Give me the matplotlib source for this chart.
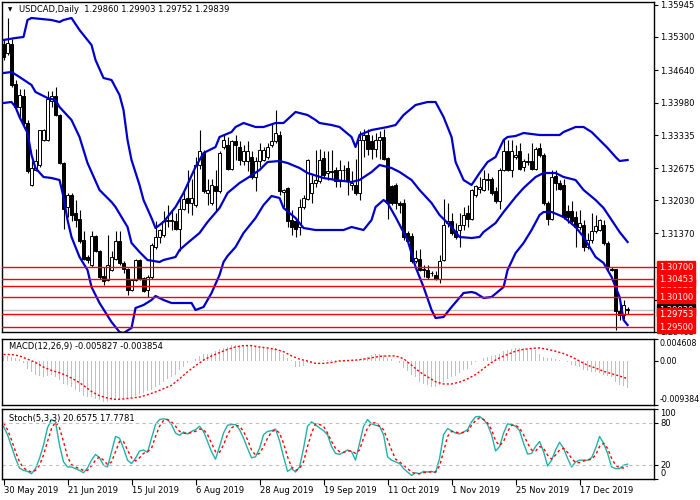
import numpy as np
import matplotlib
matplotlib.use("Agg")
import matplotlib.pyplot as plt
from matplotlib import transforms

plt.rcParams['font.family'] = ['DejaVu Sans']
plt.rcParams['font.size'] = 6

# ---- daily candles USDCAD (30 May 2019 .. end Dec 2019) ----
opens = [
    1.3517, 1.3498, 1.3517, 1.3436, 1.3391, 1.3411, 1.3357, 1.3234, 1.3264, 1.3274,
    1.3324, 1.3324, 1.3401, 1.3411, 1.3374, 1.3277, 1.3191, 1.3214, 1.3177, 1.3165,
    1.3124, 1.3091, 1.3074, 1.3131, 1.3101, 1.3051, 1.3044, 1.3064, 1.3087, 1.3121,
    1.3077, 1.3067, 1.3024, 1.3044, 1.3084, 1.3047, 1.3024, 1.3051, 1.3111, 1.3131,
    1.3134, 1.3161, 1.3161, 1.3161, 1.3147, 1.3187, 1.3207, 1.3197, 1.3194, 1.3274,
    1.3297, 1.3217, 1.3197, 1.3231, 1.3221, 1.3311, 1.3314, 1.3267, 1.3321, 1.3311,
    1.3281, 1.3281, 1.3291, 1.3251, 1.3281, 1.3284, 1.3291, 1.3314, 1.3321, 1.3334,
    1.3219, 1.3227, 1.3164, 1.3161, 1.3151, 1.3191, 1.3207, 1.3217, 1.3237, 1.3241,
    1.3287, 1.3257, 1.3261, 1.3264, 1.3241, 1.3264, 1.3267, 1.3234, 1.3234, 1.3217,
    1.3324, 1.3334, 1.3321, 1.3307, 1.3324, 1.3331, 1.3287, 1.3231, 1.3234, 1.3197,
    1.3197, 1.3137, 1.3131, 1.3081, 1.3087, 1.3067, 1.3064, 1.3057, 1.3054, 1.3047,
    1.3084, 1.3157, 1.3161, 1.3141, 1.3144, 1.3154, 1.3177, 1.3167, 1.3214, 1.3227,
    1.3224, 1.3247, 1.3245, 1.3221, 1.3201, 1.3264, 1.3301, 1.3264, 1.3291, 1.3301,
    1.3271, 1.3279, 1.3281, 1.3267, 1.3307, 1.3294, 1.3197, 1.3167, 1.3251, 1.3237,
    1.3234, 1.3181, 1.3181, 1.3171, 1.3151, 1.3154, 1.3111, 1.3124, 1.3141, 1.3144,
    1.3154, 1.3117, 1.3067, 1.3066, 1.2981, 1.2974, 1.29860]
highs = [
    1.3524, 1.3568, 1.3527, 1.3444, 1.3427, 1.3427, 1.3364, 1.3281, 1.3307, 1.3344,
    1.3347, 1.3421, 1.3421, 1.3431, 1.3377, 1.3279, 1.3217, 1.3217, 1.3204, 1.3184,
    1.3141, 1.3094, 1.3141, 1.3134, 1.3104, 1.3071, 1.3134, 1.3101, 1.3141, 1.3141,
    1.3081, 1.3069, 1.3047, 1.3087, 1.3087, 1.3051, 1.3054, 1.3117, 1.3161, 1.3147,
    1.3181, 1.3194, 1.3181, 1.3177, 1.3211, 1.3221, 1.3264, 1.3247, 1.3291, 1.3344,
    1.3304, 1.3247, 1.3247, 1.3264, 1.3301, 1.3334, 1.3331, 1.3324, 1.3334, 1.3321,
    1.3314, 1.3321, 1.3301, 1.3291, 1.3317, 1.3311, 1.3317, 1.3357, 1.3383, 1.3341,
    1.3227, 1.3231, 1.3184, 1.3167, 1.3207, 1.3214, 1.3287, 1.3254, 1.3304, 1.3307,
    1.3301, 1.3301, 1.3304, 1.3271, 1.3284, 1.3274, 1.3281, 1.3261, 1.3287, 1.3341,
    1.3347, 1.3347, 1.3334, 1.3337, 1.3341, 1.3347, 1.3291, 1.3234, 1.3237, 1.3201,
    1.3207, 1.3141, 1.3137, 1.3104, 1.3107, 1.3074, 1.3074, 1.3061, 1.3061, 1.3094,
    1.3207, 1.3197, 1.3177, 1.3157, 1.3177, 1.3191, 1.3194, 1.3227, 1.3234, 1.3251,
    1.3264, 1.3257, 1.3251, 1.3231, 1.3269, 1.3327, 1.3324, 1.3324, 1.3314, 1.3317,
    1.3287, 1.3297, 1.3317, 1.3311, 1.3317, 1.3297, 1.3201, 1.3264, 1.3264, 1.3244,
    1.3247, 1.3194, 1.3201, 1.3181, 1.3184, 1.3164, 1.3137, 1.3177, 1.3174, 1.3167,
    1.3164, 1.3121, 1.3071, 1.3067, 1.2997, 1.3004, 1.29903]
lows = [
    1.3484, 1.3494, 1.3431, 1.3381, 1.3371, 1.3354, 1.3257, 1.3232, 1.3261, 1.3271,
    1.3321, 1.3321, 1.3391, 1.3372, 1.3276, 1.3147, 1.3171, 1.3161, 1.3151, 1.3117,
    1.3085, 1.3077, 1.3071, 1.3099, 1.3047, 1.3034, 1.3041, 1.3061, 1.3084, 1.3074,
    1.3057, 1.3014, 1.3021, 1.3041, 1.3044, 1.3019, 1.3011, 1.3047, 1.3107, 1.3117,
    1.3131, 1.3151, 1.3144, 1.3144, 1.3101, 1.3184, 1.3177, 1.3174, 1.3191, 1.3267,
    1.3217, 1.3194, 1.3194, 1.3181, 1.3217, 1.3307, 1.3264, 1.3264, 1.3284, 1.3274,
    1.3274, 1.3261, 1.3247, 1.3221, 1.3271, 1.3281, 1.3287, 1.3311, 1.3317, 1.3214,
    1.3191, 1.3151, 1.3134, 1.3131, 1.3134, 1.3187, 1.3204, 1.3197, 1.3231, 1.3237,
    1.3251, 1.3244, 1.3247, 1.3231, 1.3231, 1.3241, 1.3214, 1.3224, 1.3214, 1.3204,
    1.3291, 1.3294, 1.3287, 1.3291, 1.3287, 1.3284, 1.3167, 1.3194, 1.3187, 1.3177,
    1.3124, 1.3114, 1.3077, 1.3077, 1.3061, 1.3051, 1.3047, 1.3053, 1.3044, 1.3037,
    1.3081, 1.3151, 1.3134, 1.3127, 1.3111, 1.3144, 1.3151, 1.3164, 1.3211, 1.3217,
    1.3221, 1.3224, 1.3214, 1.3197, 1.3187, 1.3261, 1.3261, 1.3251, 1.3287, 1.3264,
    1.3261, 1.3274, 1.3264, 1.3264, 1.3291, 1.3194, 1.3154, 1.3164, 1.3224, 1.3224,
    1.3167, 1.3157, 1.3157, 1.3111, 1.3144, 1.3101, 1.3107, 1.3117, 1.3137, 1.3141,
    1.3114, 1.3061, 1.3061, 1.2944, 1.2964, 1.2967, 1.29752]
closes = [
    1.3491, 1.3518, 1.3434, 1.3391, 1.3414, 1.3357, 1.3261, 1.3267, 1.3281, 1.3344,
    1.3344, 1.3407, 1.3411, 1.3374, 1.3277, 1.3187, 1.3214, 1.3174, 1.3164, 1.3121,
    1.3087, 1.3084, 1.3131, 1.3101, 1.3051, 1.3041, 1.3074, 1.3091, 1.3121, 1.3077,
    1.3067, 1.3024, 1.3044, 1.3084, 1.3047, 1.3021, 1.3051, 1.3114, 1.3131, 1.3144,
    1.3161, 1.3164, 1.3164, 1.3147, 1.3187, 1.3207, 1.3197, 1.3207, 1.3274, 1.3301,
    1.3221, 1.3224, 1.3234, 1.3221, 1.3297, 1.3324, 1.3267, 1.3321, 1.3314, 1.3284,
    1.3301, 1.3301, 1.3251, 1.3281, 1.3304, 1.3304, 1.3311, 1.3321, 1.3337, 1.3221,
    1.3224, 1.3161, 1.3151, 1.3147, 1.3191, 1.3207, 1.3284, 1.3237, 1.3244, 1.3284,
    1.3254, 1.3261, 1.3260, 1.3241, 1.3264, 1.3265, 1.3241, 1.3237, 1.3217, 1.3324,
    1.3334, 1.3307, 1.3307, 1.3324, 1.3331, 1.3287, 1.3197, 1.3197, 1.3197, 1.3194,
    1.3131, 1.3121, 1.3081, 1.3087, 1.3064, 1.3064, 1.3051, 1.3057, 1.3047, 1.3081,
    1.3154, 1.3161, 1.3137, 1.3131, 1.3154, 1.3174, 1.3167, 1.3224, 1.3231, 1.3231,
    1.3247, 1.3244, 1.3217, 1.3201, 1.3264, 1.3301, 1.3264, 1.3301, 1.3294, 1.3267,
    1.3281, 1.3281, 1.3267, 1.3307, 1.3294, 1.3197, 1.3167, 1.3251, 1.3237, 1.3227,
    1.3171, 1.3171, 1.3161, 1.3151, 1.3157, 1.3111, 1.3124, 1.3141, 1.3151, 1.3164,
    1.3117, 1.3071, 1.3064, 1.2981, 1.2974, 1.2994, 1.29839]

# ---- Bollinger bands (bar index, price) ----
bb_up_i = [0, 3, 5, 6, 7, 12, 14, 15, 17, 19, 22, 23, 25, 27, 29, 30, 31, 32, 34, 35,
           37, 38, 40, 43, 45, 48, 50, 53, 54, 57, 58, 60, 63, 65, 68, 70, 73, 74, 76, 78,
           79, 82, 84, 87, 88, 89, 92, 96, 98, 100, 103, 106, 108, 110, 112, 113, 115, 117, 119, 121,
           123, 125, 126, 128, 130, 134, 139, 140, 143, 145, 147, 149, 151, 153, 154, 156]
bb_up = [1.3524, 1.3528, 1.3530, 1.3564, 1.3568, 1.3564, 1.3560, 1.3564, 1.3568, 1.3544,
         1.3514, 1.3484, 1.3448, 1.3444, 1.3414, 1.3384, 1.3324, 1.3284, 1.3234, 1.3204,
         1.3168, 1.3148, 1.3160, 1.3190, 1.3218, 1.3270, 1.3298, 1.3310, 1.3330, 1.3340,
         1.3350, 1.3358, 1.3350, 1.3350, 1.3358, 1.3358, 1.3380, 1.3378, 1.3374, 1.3364,
         1.3358, 1.3354, 1.3350, 1.3330, 1.3310, 1.3334, 1.3344, 1.3350, 1.3354, 1.3374,
         1.3394, 1.3400, 1.3400, 1.3370, 1.3330, 1.3280, 1.3244, 1.3234, 1.3258, 1.3280,
         1.3290, 1.3324, 1.3330, 1.3332, 1.3338, 1.3334, 1.3334, 1.3340, 1.3350, 1.3350,
         1.3340, 1.3324, 1.3308, 1.3290, 1.3282, 1.3284]
bb_mid_i = [0, 2, 4, 7, 8, 11, 13, 14, 17, 19, 21, 24, 27, 28, 31, 32, 34, 36, 39, 40,
            43, 44, 46, 49, 51, 54, 56, 59, 61, 64, 66, 69, 71, 74, 76, 80, 83, 87, 89, 92,
            94, 97, 99, 102, 104, 107, 109, 112, 114, 117, 119, 120, 123, 125, 128, 130, 133, 135, 138, 140,
            143, 145, 148, 150, 152, 154, 156]
bb_mid = [1.3458, 1.3460, 1.3450, 1.3434, 1.3420, 1.3408, 1.3404, 1.3390, 1.3364, 1.3330,
          1.3278, 1.3224, 1.3200, 1.3190, 1.3150, 1.3118, 1.3100, 1.3084, 1.3080, 1.3084,
          1.3090, 1.3104, 1.3118, 1.3138, 1.3160, 1.3188, 1.3218, 1.3238, 1.3248, 1.3264,
          1.3280, 1.3282, 1.3278, 1.3268, 1.3258, 1.3248, 1.3244, 1.3240, 1.3244, 1.3260,
          1.3274, 1.3268, 1.3260, 1.3244, 1.3224, 1.3198, 1.3174, 1.3150, 1.3130, 1.3128,
          1.3130, 1.3140, 1.3158, 1.3180, 1.3210, 1.3228, 1.3250, 1.3258, 1.3258, 1.3250,
          1.3244, 1.3224, 1.3204, 1.3188, 1.3164, 1.3140, 1.3120]
bb_low_i = [0, 2, 3, 4, 6, 7, 8, 10, 12, 14, 15, 16, 17, 19, 21, 22, 24, 27, 29, 30,
            32, 33, 35, 37, 38, 40, 42, 47, 48, 50, 52, 54, 55, 56, 58, 60, 63, 65, 67, 69,
            70, 73, 75, 78, 85, 87, 88, 90, 92, 93, 95, 96, 98, 101, 103, 105, 107, 108, 110, 112,
            115, 117, 118, 120, 122, 125, 126, 128, 130, 132, 134, 135, 137, 140, 143, 145, 148, 150, 152, 154,
            155, 156]
bb_low = [1.3398, 1.3400, 1.3390, 1.3370, 1.3338, 1.3294, 1.3268, 1.3250, 1.3248, 1.3244,
          1.3210, 1.3164, 1.3130, 1.3090, 1.3064, 1.3030, 1.2998, 1.2960, 1.2940, 1.2938,
          1.2948, 1.2988, 1.2994, 1.3004, 1.3012, 1.3004, 1.2998, 1.2998, 1.2984, 1.2990,
          1.3018, 1.3054, 1.3080, 1.3092, 1.3110, 1.3138, 1.3168, 1.3194, 1.3212, 1.3208,
          1.3188, 1.3168, 1.3148, 1.3144, 1.3144, 1.3150, 1.3148, 1.3144, 1.3164, 1.3190,
          1.3204, 1.3198, 1.3170, 1.3124, 1.3070, 1.3030, 1.2984, 1.2968, 1.2970, 1.2990,
          1.3018, 1.3020, 1.3018, 1.3008, 1.3010, 1.3030, 1.3064, 1.3098, 1.3118, 1.3144,
          1.3174, 1.3180, 1.3180, 1.3170, 1.3150, 1.3130, 1.3090, 1.3078, 1.3050, 1.3010,
          1.2964, 1.2954]

# support / resistance levels and current price
levels = [1.30700, 1.30453, 1.30328, 1.30100, 1.29753, 1.29500]
last_price = 1.29839
price_ticks = [1.35945, 1.35300, 1.34640, 1.33980, 1.33335, 1.32675, 1.32030, 1.31370,
               1.30710, 1.30050, 1.29405]

# ---- MACD(12,26,9) ----
macd_hist = [
    0.0010, 0.0010, 0.0008, 0.0006, 0.0003, -0.0006, -0.0017, -0.0024, -0.0030, -0.0033,
    -0.0035, -0.0032, -0.0030, -0.0035, -0.0042, -0.0050, -0.0053, -0.0057, -0.0062, -0.0067,
    -0.0075, -0.0078, -0.0078, -0.0082, -0.0085, -0.0089, -0.0088, -0.0085, -0.0084, -0.0082,
    -0.0082, -0.0080, -0.0078, -0.0076, -0.0073, -0.0069, -0.0066, -0.0062, -0.0057, -0.0052,
    -0.0046, -0.0040, -0.0035, -0.0030, -0.0021, -0.0014, -0.0006, -0.0001, 0.0004, 0.0010,
    0.0013, 0.0015, 0.0017, 0.0020, 0.0024, 0.0027, 0.0029, 0.0033, 0.0034, 0.0034,
    0.0033, 0.0033, 0.0032, 0.0029, 0.0029, 0.0027, 0.0027, 0.0027, 0.0026, 0.0019,
    0.0013, 0.0006, 0.0001, -0.0014, -0.0014, -0.0011, -0.0006, -0.0003, -0.0001, 0.0000,
    0.0001, 0.0001, 0.0001, 0.0001, 0.0001, 0.0001, 0.0000, 0.0000, 0.0001, 0.0003,
    0.0006, 0.0008, 0.0011, 0.0013, 0.0015, 0.0011, 0.0006, 0.0003, 0.0000, -0.0006,
    -0.0016, -0.0023, -0.0030, -0.0035, -0.0046, -0.0050, -0.0053, -0.0057, -0.0057, -0.0053,
    -0.0046, -0.0039, -0.0035, -0.0032, -0.0026, -0.0021, -0.0017, -0.0010, -0.0004, -0.0001,
    0.0006, 0.0008, 0.0010, 0.0011, 0.0015, 0.0020, 0.0022, 0.0024, 0.0026, 0.0026,
    0.0026, 0.0024, 0.0024, 0.0022, 0.0015, 0.0008, 0.0006, 0.0006, 0.0004, 0.0001,
    -0.0001, -0.0004, -0.0009, -0.0011, -0.0014, -0.0021, -0.0023, -0.0024, -0.0024, -0.0026,
    -0.0030, -0.0032, -0.0035, -0.0046, -0.0052, -0.0055, -0.005827]
sig_i = list(range(0, 157, 2))
macd_sig = [
    0.0013, 0.0013, 0.0010, 0.0003, -0.0004, -0.0014, -0.0021, -0.0026, -0.0033, -0.0042,
    -0.0053, -0.0066, -0.0075, -0.0080, -0.0083, -0.0082, -0.0080, -0.0078, -0.0073, -0.0067,
    -0.0060, -0.0053, -0.0039, -0.0024, -0.0011, 0.0001, 0.0010, 0.0017, 0.0024, 0.0029,
    0.0032, 0.0032, 0.0029, 0.0027, 0.0024, 0.0019, 0.0010, 0.0003, -0.0001, -0.0006,
    -0.0006, -0.0004, -0.0001, 0.0000, 0.0001, 0.0003, 0.0006, 0.0009, 0.0010, 0.0010,
    0.0004, -0.0010, -0.0024, -0.0035, -0.0045, -0.0050, -0.0050, -0.0046, -0.0039, -0.0030,
    -0.0017, -0.0004, 0.0006, 0.0013, 0.0020, 0.0024, 0.0026, 0.0027, 0.0024, 0.0020,
    0.0015, 0.0008, -0.0001, -0.0010, -0.0016, -0.0023, -0.0028, -0.0033, -0.003854]

# ---- Stochastic(5,3,3) ----
stoch_k = [
    75, 63, 46, 29, 15, 11.7, 10.3, 6.9, 14.2, 29,
    48, 73, 85, 81.5, 48, 24, 16.6, 16.6, 14.2, 11.7,
    8.3, 15.2, 26.4, 34.7, 29.8, 19.1, 16.6, 38.6, 60.5, 58,
    43.4, 26.4, 21.5, 29, 39.6, 41, 37.6, 58, 77.6, 84.9,
    85.9, 84.9, 77.6, 65.4, 62, 66.9, 64, 67.8, 70.3, 75.2,
    67.8, 53.2, 38.6, 27.8, 45.9, 65.4, 76.6, 77.6, 77.6, 70.3,
    58, 43.4, 29.8, 31.2, 43.4, 63, 67.8, 68.8, 71.2, 54.2,
    31.2, 10.3, 14.2, 9.3, 16.6, 43.4, 75.2, 81.5, 77.6, 72.7,
    68.8, 63, 46, 36.1, 34.7, 37.6, 41, 38.6, 26.4, 50.7,
    75.2, 84.9, 78.6, 76.6, 75.2, 63, 31.2, 26.4, 23.9, 21.5,
    14.2, 9.3, 4.4, 8.3, 6.9, 10.3, 9.3, 10.3, 8.3, 29,
    63, 71.7, 68.8, 65.4, 64, 66.9, 70.3, 81.5, 88.8, 89.3,
    84.9, 77.6, 63, 39.6, 46, 65.4, 78.6, 77.6, 75.2, 68.8,
    50.7, 35.2, 36.1, 46, 53.2, 38.6, 18.1, 26.4, 41, 52.2,
    43.4, 29, 16.6, 23.9, 26.4, 26.4, 26.4, 29.8, 43.4, 60.5,
    50.7, 36.1, 16.6, 14.2, 14.2, 19.1, 20.6575]
stoch_d = [
    80, 70.3, 55.6, 38.6, 23.9, 15.2, 11.7, 9.3, 11.7, 19.1,
    33.7, 53.2, 71.7, 81.5, 72.7, 53.2, 31.2, 20, 16.6, 14.2,
    11.7, 11.7, 18.1, 26.4, 31.2, 26.4, 20, 23.9, 38.6, 53.2,
    53.2, 41, 29.8, 25.2, 29.8, 36.1, 38.6, 43.4, 60.5, 75.2,
    83.4, 84.9, 81.5, 75.2, 67.8, 65.4, 64.4, 66.4, 67.8, 71.2,
    70.3, 63, 50.7, 38.6, 37.6, 48.3, 63, 72.7, 76.6, 75.2,
    67.8, 55.6, 41, 33.7, 36.1, 46, 58, 66.9, 70.3, 65.4,
    50.7, 31.2, 16.6, 11.7, 14.2, 23.9, 46, 65.4, 78.6, 77.6,
    75.2, 65.4, 53.2, 43.4, 38.6, 37.6, 39.6, 39.6, 36.1, 41,
    58, 72.7, 80, 80, 75.2, 70.3, 55.6, 41, 27.8, 23.9,
    19.1, 14.2, 9.3, 6.9, 6.9, 8.3, 9.3, 9.3, 9.3, 18.1,
    38.6, 60.5, 67.8, 66.9, 65.4, 66.4, 67.8, 76.6, 83.4, 87.4,
    84.9, 80, 70.3, 54.2, 47.4, 53.2, 67.8, 76.6, 76.6, 72.7,
    63, 50.7, 41, 39.6, 46, 43.4, 33.7, 27.8, 33.7, 41,
    43.4, 37.6, 29, 22.9, 22.9, 25.2, 26.4, 27.8, 33.7, 46,
    50.7, 43.4, 29, 19.1, 15.2, 15.2, 17.7781]

date_i = [0, 16, 32, 48, 64, 80, 96, 112, 128, 144]
date_labels = ["30 May 2019", "21 Jun 2019", "15 Jul 2019", "6 Aug 2019", "28 Aug 2019",
               "19 Sep 2019", "11 Oct 2019", "1 Nov 2019", "25 Nov 2019", "17 Dec 2019"]

BLUE = '#0000CD'
RED = '#FF0000'
SILVER = '#C0C0C0'
TEAL = '#20B2AA'

W, H = 700.0, 500.0
fig = plt.figure(figsize=(7, 5), dpi=100)


def panel(top, bottom):
    a = fig.add_axes([2 / W, 1 - bottom / H, 652 / W, (bottom - top) / H])
    a.set_xlim(-0.375, 162.6)
    a.yaxis.tick_right()
    a.tick_params(axis='y', direction='out', length=3, width=0.8, pad=1.5, labelsize=6, colors='black')
    a.tick_params(axis='x', bottom=False, labelbottom=False)
    for s in a.spines.values():
        s.set_color('black')
        s.set_linewidth(1)
    return a


ax = panel(2, 332)
axm = panel(339, 404.5)
axs = panel(409, 478.5)

# --- main chart ---
o = np.array(opens)
c = np.array(closes)
h = np.array(highs)
l = np.array(lows)
idx = np.arange(len(c))
up = c >= o
lo = np.minimum(o, c)
bh = np.abs(c - o)

ax.vlines(idx, l, h, color='black', lw=0.8, zorder=2)
ax.bar(idx[up], bh[up], bottom=lo[up], width=0.55, color='white', edgecolor='black', lw=0.7, zorder=3)
ax.bar(idx[~up], bh[~up], bottom=lo[~up], width=0.55, color='black', edgecolor='black', lw=0.7, zorder=3)

for xi, yv in [(bb_up_i, bb_up), (bb_mid_i, bb_mid), (bb_low_i, bb_low)]:
    ax.plot(xi, yv, color=BLUE, lw=1.6, zorder=4, solid_joinstyle='round')

ax.axhline(last_price, color=SILVER, lw=1, zorder=1)
for lv in levels:
    ax.axhline(lv, color=RED, lw=1, zorder=5)

ax.set_ylim(1.2940, 1.3600)
ax.set_yticks(price_ticks)
ax.set_yticklabels(['%.5f' % t for t in price_ticks])

# price tags on the right scale
bt = transforms.blended_transform_factory(ax.transAxes, ax.transData)


def tag(val, fc):
    ax.text(1.0 + 5 / 652, val, '%.5f' % val, transform=bt, color='white', fontsize=6,
            va='center', ha='left', clip_on=False, zorder=10,
            bbox=dict(boxstyle='square,pad=0.22', fc=fc, ec=fc))


tag(last_price, 'black')
for lv in [1.30700, 1.30328, 1.30453, 1.30100, 1.29753, 1.29500]:
    tag(lv, RED)

fig.text(10 / W, 1 - 10 / H, u'\u25BC', fontsize=4, va='center', ha='center')
fig.text(19 / W, 1 - 10 / H, 'USDCAD,Daily  1.29860 1.29903 1.29752 1.29839', fontsize=6, va='center')

# --- MACD ---
axm.bar(idx, macd_hist, width=0.3, color=SILVER, lw=0)
axm.plot(sig_i, macd_sig, color=RED, lw=1, ls=(0, (1.5, 1.5)))
axm.set_ylim(-0.009384, 0.004608)
axm.set_yticks([0.004608, 0.0, -0.009384])
axm.set_yticklabels(['0.004608', '0.00', '-0.009384'])
axm.tick_params(axis='y', labelsize=5.7, pad=1)
tl = axm.get_yticklabels()
tl[0].set_va('top')
tl[2].set_va('bottom')
axm.text(7 / 652, 0.89, 'MACD(12,26,9) -0.005827 -0.003854', transform=axm.transAxes, fontsize=6, va='center')

# --- Stochastic ---
axs.plot(idx, stoch_k, color=TEAL, lw=1)
axs.plot(idx, stoch_d, color=RED, lw=1, ls=(0, (2, 2)))
axs.axhline(80, color=SILVER, lw=0.8, ls=(0, (3, 3)))
axs.axhline(20, color=SILVER, lw=0.8, ls=(0, (3, 3)))
axs.set_ylim(0, 100)
axs.set_yticks([100, 80, 20, 0])
axs.set_yticklabels(['100', '80', '20', '0'])
tl = axs.get_yticklabels()
tl[0].set_va('top')
tl[3].set_va('bottom')
axs.text(7 / 652, 0.87, 'Stoch(5,3,3) 20.6575 17.7781', transform=axs.transAxes, fontsize=6, va='center')

axs.tick_params(axis='x', bottom=True, labelbottom=True, direction='out', length=4, width=0.8, pad=1.5, labelsize=6)
axs.set_xticks(date_i)
axs.set_xticklabels(date_labels, ha='left')

fig.savefig('out.png', dpi=100)
